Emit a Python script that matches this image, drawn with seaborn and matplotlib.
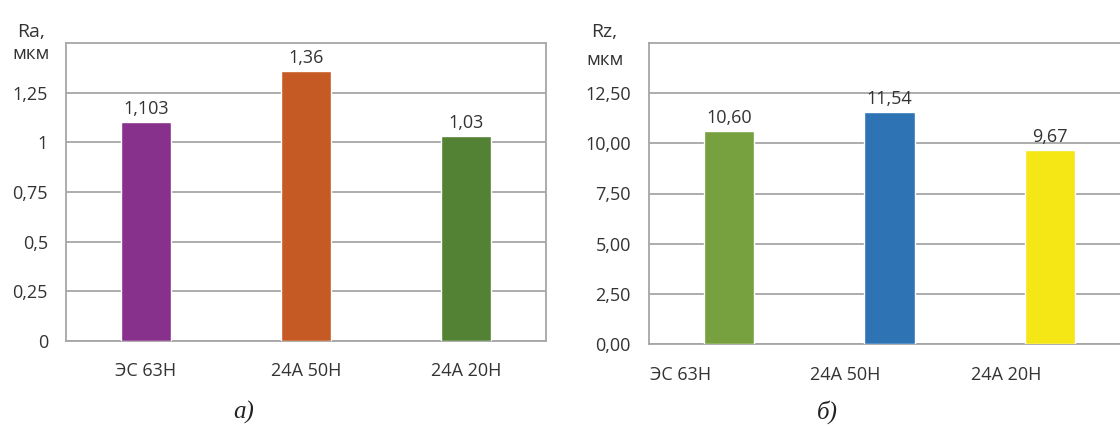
import matplotlib
matplotlib.use("Agg")
import matplotlib.pyplot as plt
import matplotlib.transforms as mtransforms
import seaborn as sns
import pandas as pd

# ---- data ----
categories = ["ЭС 63Н", "24А 50Н", "24А 20Н"]
ra_values = [1.103, 1.36, 1.03]
rz_values = [10.60, 11.54, 9.67]
ra_labels = ["1,103", "1,36", "1,03"]
rz_labels = ["10,60", "11,54", "9,67"]
ra_ticks = [0, 0.25, 0.5, 0.75, 1, 1.25]
ra_ticklabels = ["0", "0,25", "0,5", "0,75", "1", "1,25"]
rz_ticks = [0, 2.5, 5, 7.5, 10, 12.5]
rz_ticklabels = ["0,00", "2,50", "5,00", "7,50", "10,00", "12,50"]
ra_colors = ["#88318C", "#C55A24", "#548235"]
rz_colors = ["#77A03E", "#2E74B5", "#F5E616"]

sns.set_theme(style="white")
plt.rcParams["font.family"] = ["Open Sans", "DejaVu Sans"]

W, H = 1120, 426
fig = plt.figure(figsize=(W / 100, H / 100), dpi=100)

def px_rect(x0, y_top, w, h):
    return [x0 / W, 1 - (y_top + h) / H, w / W, h / H]

ax1 = fig.add_axes(px_rect(66, 43, 480, 298))
ax2 = fig.add_axes(px_rect(649, 43, 481, 301))

grid_c = "#A6A6A6"
text_c = "#333333"
fs = 13

def draw(ax, vals, colors, ylim, ticks, ticklabels, vlabels):
    df = pd.DataFrame({"cat": categories, "val": vals})
    sns.barplot(data=df, x="cat", y="val", hue="cat", palette=colors,
                width=0.3125, saturation=1, legend=False, ax=ax, zorder=3)
    ax.set_xlim(-0.5, 2.5)
    ax.set_ylim(*ylim)
    ax.set_yticks(ticks)
    ax.set_yticklabels(ticklabels)
    ax.set_xlabel("")
    ax.set_ylabel("")
    ax.grid(axis="y", color=grid_c, linewidth=1.3, zorder=0)
    ax.set_axisbelow(True)
    for s in ax.spines.values():
        s.set_visible(True)
        s.set_color(grid_c)
        s.set_linewidth(1.3)
    ax.tick_params(axis="both", length=0, labelsize=fs, labelcolor=text_c)
    ax.tick_params(axis="y", pad=13)
    for p, lab in zip(ax.patches, vlabels):
        ax.annotate(lab, (p.get_x() + p.get_width() / 2, p.get_height()),
                    xytext=(0, 3), textcoords="offset points",
                    ha="center", va="bottom", fontsize=fs, color=text_c)

draw(ax1, ra_values, ra_colors, (0, 1.5), ra_ticks, ra_ticklabels, ra_labels)
draw(ax2, rz_values, rz_colors, (0, 15), rz_ticks, rz_ticklabels, rz_labels)

ax1.tick_params(axis="x", pad=15)
ax2.tick_params(axis="x", pad=16)
offset = mtransforms.ScaledTranslation(-79 / 100, 0, fig.dpi_scale_trans)
for lab in ax2.get_xticklabels():
    lab.set_horizontalalignment("left")
    lab.set_transform(lab.get_transform() + offset)

def ftext(x, y, s, **kw):
    fig.text(x / W, 1 - y / H, s, ha="center", va="center", **kw)

ftext(31, 32, "Ra,", fontsize=14, color=text_c)
ftext(31, 54, "мкм", fontsize=13.5, color=text_c)
ftext(604, 32, "Rz,", fontsize=14, color=text_c)
ftext(605, 60, "мкм", fontsize=13.5, color=text_c)
ftext(244, 412, "а)", fontsize=18, style="italic", family="Liberation Serif", color="#222222")
ftext(827, 412, "б)", fontsize=18, style="italic", family="Liberation Serif", color="#222222")

fig.savefig("out.png", dpi=100)
